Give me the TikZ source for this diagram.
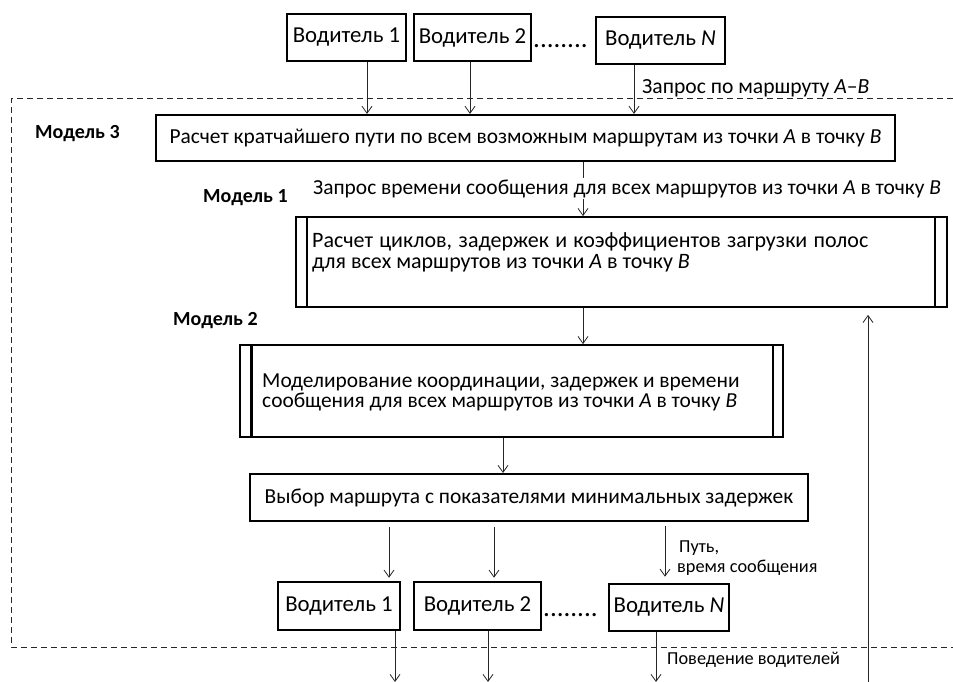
\documentclass[tikz,border=0pt]{standalone}
\usepackage{fontspec}
\setmainfont{Carlito}
\usetikzlibrary{arrows.meta}
\begin{document}
\begin{tikzpicture}[x=1pt,y=-1pt,
  box/.style={draw, line width=2.2pt, inner sep=0pt, align=center},
  drv/.style={box, line width=2.6pt, font=\fontsize{22.8}{24}\selectfont},
  bigtxt/.style={font=\fontsize{21.4}{22}\selectfont},
  m1txt/.style={font=\fontsize{22}{22}\selectfont},
  dbl/.style={draw, line width=1.8pt, inner sep=0pt},
  arr/.style={draw=black!85, line width=0.8pt, -{Straight Barb[length=7pt,width=10pt]}},
  lbl/.style={inner sep=0pt, anchor=base west},
  dots/.style={lbl, font=\fontsize{27}{28}\selectfont},
  modlbl/.style={lbl, font=\fontsize{20}{22}\selectfont\bfseries},
  small/.style={lbl, font=\fontsize{18.3}{20}\selectfont},
  frame/.style={draw=black!85, line width=1pt, dash pattern=on 6pt off 4pt}]
\useasboundingbox (0,0) rectangle (953,682);

% dashed frame
\draw[frame] (953,99) -- (11,99) -- (11,647) -- (953,647);

% top drivers
\node[drv, minimum width=119pt, minimum height=47pt] (t1) at (346.5,37.5) {Водитель 1};
\node[drv, minimum width=117pt, minimum height=47pt] (t2) at (472.5,37.5) {Водитель 2};
\node[drv, minimum width=129pt, minimum height=47pt] (tN) at (660.5,40.5) {Водитель \textit{N}};
\node[dots] (tdots) at (533,48) {........};

% model 3
\node[box, bigtxt, minimum width=739pt, minimum height=46pt] (m3) at (525.5,138)
  {Расчет кратчайшего пути по всем возможным маршрутам из точки \textit{A} в точку \textit{B}};

% model 1
\node[dbl, minimum width=651pt, minimum height=90pt] (m1) at (621.5,262) {};
\draw[line width=1.8pt] ([xshift=12pt]m1.north west) -- ([xshift=12pt]m1.south west);
\draw[line width=1.8pt] ([xshift=-13pt]m1.north east) -- ([xshift=-13pt]m1.south east);
\node[lbl, m1txt] (m1a) at (312,247) {\makebox[556pt][s]{Расчет циклов, задержек и коэффициентов загрузки полос}};
\node[lbl, m1txt] (m1b) at (312,268) {для всех маршрутов из точки \textit{A} в точку \textit{B}};

% model 2
\node[dbl, minimum width=543pt, minimum height=92pt] (m2) at (511.5,391) {};
\draw[line width=3pt] ([xshift=12pt]m2.north west) -- ([xshift=12pt]m2.south west);
\draw[line width=1.8pt] ([xshift=-11pt]m2.north east) -- ([xshift=-11pt]m2.south east);
\node[lbl, bigtxt] (m2a) at (262,387) {Моделирование координации, задержек и времени};
\node[lbl, bigtxt] (m2b) at (262,407) {сообщения для всех маршрутов из точки \textit{A} в точку \textit{B}};

% selection
\node[box, bigtxt, line width=2pt, minimum width=558pt, minimum height=47pt] (sel) at (529,497.5)
  {Выбор маршрута с показателями минимальных задержек};

% bottom drivers
\node[drv, minimum width=122pt, minimum height=48pt] (b1) at (339,606) {Водитель 1};
\node[drv, minimum width=127pt, minimum height=48pt] (b2) at (477.5,606) {Водитель 2};
\node[drv, minimum width=120pt, minimum height=47pt] (bN) at (669,607.5) {Водитель \textit{N}};
\node[dots] (bdots) at (543,616) {........};

% model labels
\node[modlbl] (l3) at (35,139) {Модель 3};
\node[modlbl] (l1) at (203,202) {Модель 1};
\node[modlbl] (l2) at (173,325) {Модель 2};

% free ends
\coordinate (o1) at (395,682);
\coordinate (o2) at (488,682);
\coordinate (oN) at (656,682);
\coordinate (fb) at (868,682);

% arrows
\draw[arr] ([xshift=20.5pt]t1.south) -- ([xshift=20.5pt]t1.south |- m3.north);
\draw[arr] ([xshift=-2.5pt]t2.south) -- ([xshift=-2.5pt]t2.south |- m3.north);
\draw[arr] ([xshift=-26.5pt]tN.south) -- ([xshift=-26.5pt]tN.south |- m3.north);
\draw[arr] ([xshift=57.5pt]m3.south) -- ([xshift=57.5pt]m3.south |- m1.north);
\draw[arr] ([xshift=-38.5pt]m1.south) -- ([xshift=-38.5pt]m1.south |- m2.north);
\draw[arr] ([xshift=-8.5pt]m2.south) -- ([xshift=-8.5pt]m2.south |- sel.north);
\draw[arr, shorten <=5pt, shorten >=3pt] ([xshift=-140pt]sel.south) -- ([xshift=-140pt]sel.south |- b1.north);
\draw[arr, shorten <=5pt, shorten >=3pt] ([xshift=-35pt]sel.south) -- ([xshift=-35pt]sel.south |- b2.north);
\draw[arr, shorten <=4pt, shorten >=6pt] ([xshift=136pt]sel.south) -- ([xshift=136pt]sel.south |- bN.north);
\draw[arr] ([xshift=56pt]b1.south) -- (o1);
\draw[arr] ([xshift=10.5pt]b2.south) -- (o2);
\draw[arr] ([xshift=-13pt]bN.south) -- (oN);
\draw[arr, shorten >=7pt] (fb) -- (fb |- m1.south);

% labels
\node[lbl, font=\fontsize{21.6}{22}\selectfont] (q1) at (642,94) {Запрос по маршруту \textit{A}–\textit{B}};
\node[lbl, fill=white, inner sep=1pt, font=\fontsize{21.4}{22}\selectfont] (q2) at (312,194)
  {Запрос времени сообщения для всех маршрутов из точки \textit{A} в точку \textit{B}};
\node[small] (p1) at (679,552) {Путь,};
\node[small] (p2) at (677,572) {время сообщения};
\node[small] (p3) at (667,664) {Поведение водителей};
\end{tikzpicture}
\end{document}
